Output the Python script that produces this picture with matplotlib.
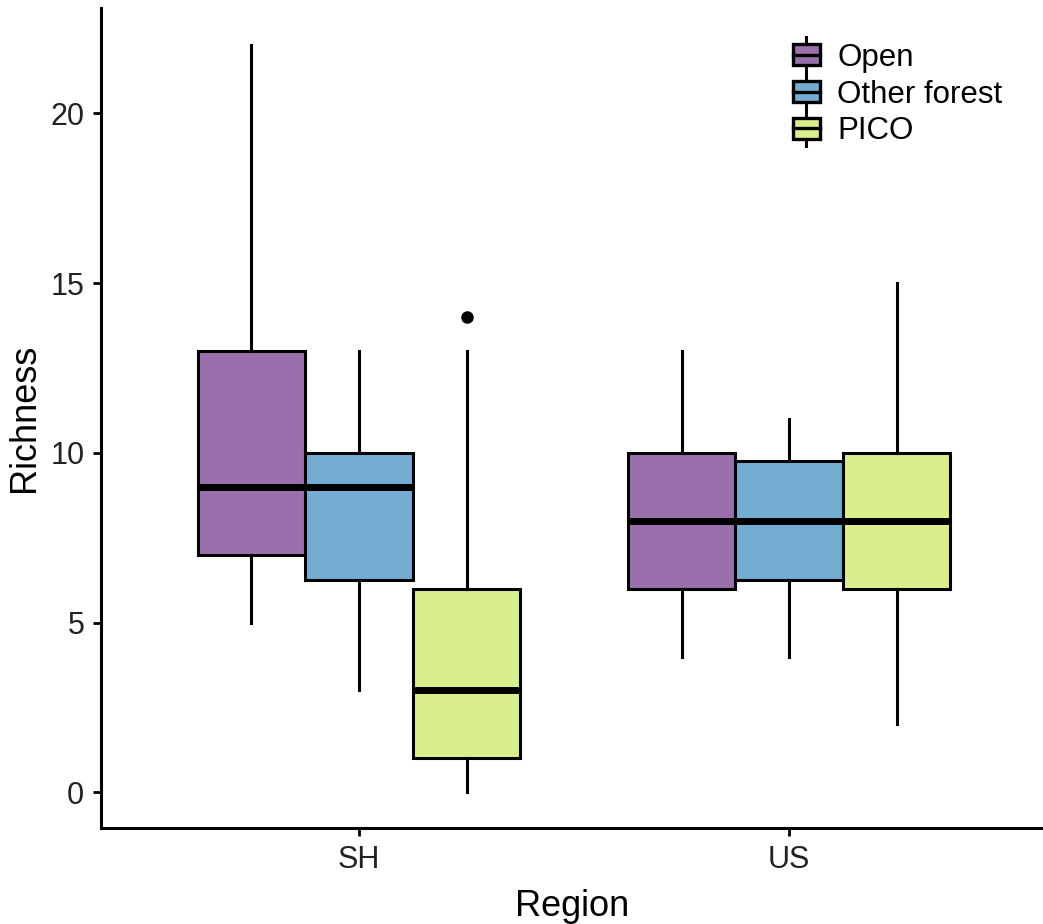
import matplotlib
matplotlib.use('Agg')
import matplotlib.pyplot as plt
from matplotlib.patches import Rectangle, Patch
from matplotlib.lines import Line2D
from matplotlib.legend_handler import HandlerBase

plt.rcParams['font.family'] = ['Liberation Sans', 'DejaVu Sans']

# 区域与生境类型
regions = ['SH', 'US']
habitats = ['Open', 'Other forest', 'PICO']
colors = ['#9970AB', '#74ADD1', '#D9EF8B']

# 箱线图统计量（每个区域按 Open / Other forest / PICO 顺序）
whislo = [[5, 3, 0], [4, 4, 2]]
q1 = [[7, 6.25, 1], [6, 6.25, 6]]
med = [[9, 9, 3], [8, 8, 8]]
q3 = [[13, 10, 6], [10, 9.75, 10]]
whishi = [[22, 13, 13], [13, 11, 15]]
fliers = [[[], [], [14]], [[], [], []]]


class BoxHandler(HandlerBase):
    def create_artists(self, legend, orig_handle, xdescent, ydescent,
                       width, height, fontsize, trans):
        w = height * 1.25
        h = height * 0.95
        y0 = (height - h) / 2
        x0 = xdescent + (width - w) / 2
        cx = x0 + w / 2
        vline = Line2D([cx, cx], [-height * 0.3, height * 1.3], color='black',
                       lw=2.2, transform=trans)
        rect = Rectangle((x0, y0), w, h, facecolor=orig_handle.get_facecolor(),
                         edgecolor='black', lw=2.4, transform=trans)
        mline = Line2D([x0, x0 + w], [height / 2, height / 2], color='black',
                       lw=2.4, transform=trans)
        return [vline, rect, mline]


fig = plt.figure(figsize=(10.43, 9.24), dpi=100)
ax = fig.add_axes([0.0968, 0.1039, 0.903, 0.8874])

width = 0.25
for i, reg in enumerate(regions):
    for j, hab in enumerate(habitats):
        pos = i + 1 + (j - 1) * width
        stats = [{'whislo': whislo[i][j], 'q1': q1[i][j], 'med': med[i][j],
                  'q3': q3[i][j], 'whishi': whishi[i][j], 'fliers': fliers[i][j]}]
        ax.bxp(stats, positions=[pos], widths=width, patch_artist=True,
               showcaps=False, manage_ticks=False,
               boxprops=dict(facecolor=colors[j], edgecolor='black', lw=2.2),
               medianprops=dict(color='black', lw=5, solid_capstyle='butt'),
               whiskerprops=dict(color='black', lw=2.2),
               flierprops=dict(marker='o', markerfacecolor='black',
                               markeredgecolor='black', markersize=8))

ax.set_xlim(0.4, 2.59)
ax.set_ylim(-1.05, 23.1)
ax.set_xticks([1, 2])
ax.set_xticklabels(regions)
ax.set_yticks([0, 5, 10, 15, 20])
ax.tick_params(axis='both', labelsize=22, length=6, width=2, color='black',
               labelcolor='#222222', pad=6)
ax.spines['top'].set_visible(False)
ax.spines['right'].set_visible(False)
for s in ['left', 'bottom']:
    ax.spines[s].set_linewidth(2.2)
ax.set_xlabel('Region', fontsize=26, labelpad=10)
ax.set_ylabel('Richness', fontsize=26, labelpad=6)

handles = [Patch(facecolor=c) for c in colors]
ax.legend(handles, habitats, handler_map={Patch: BoxHandler()},
          loc='upper left', bbox_to_anchor=(0.714, 0.973), frameon=False,
          fontsize=22.5, handlelength=1.3, handletextpad=0.35, labelspacing=0.22,
          borderaxespad=0)

fig.savefig('out.png', dpi=100)
